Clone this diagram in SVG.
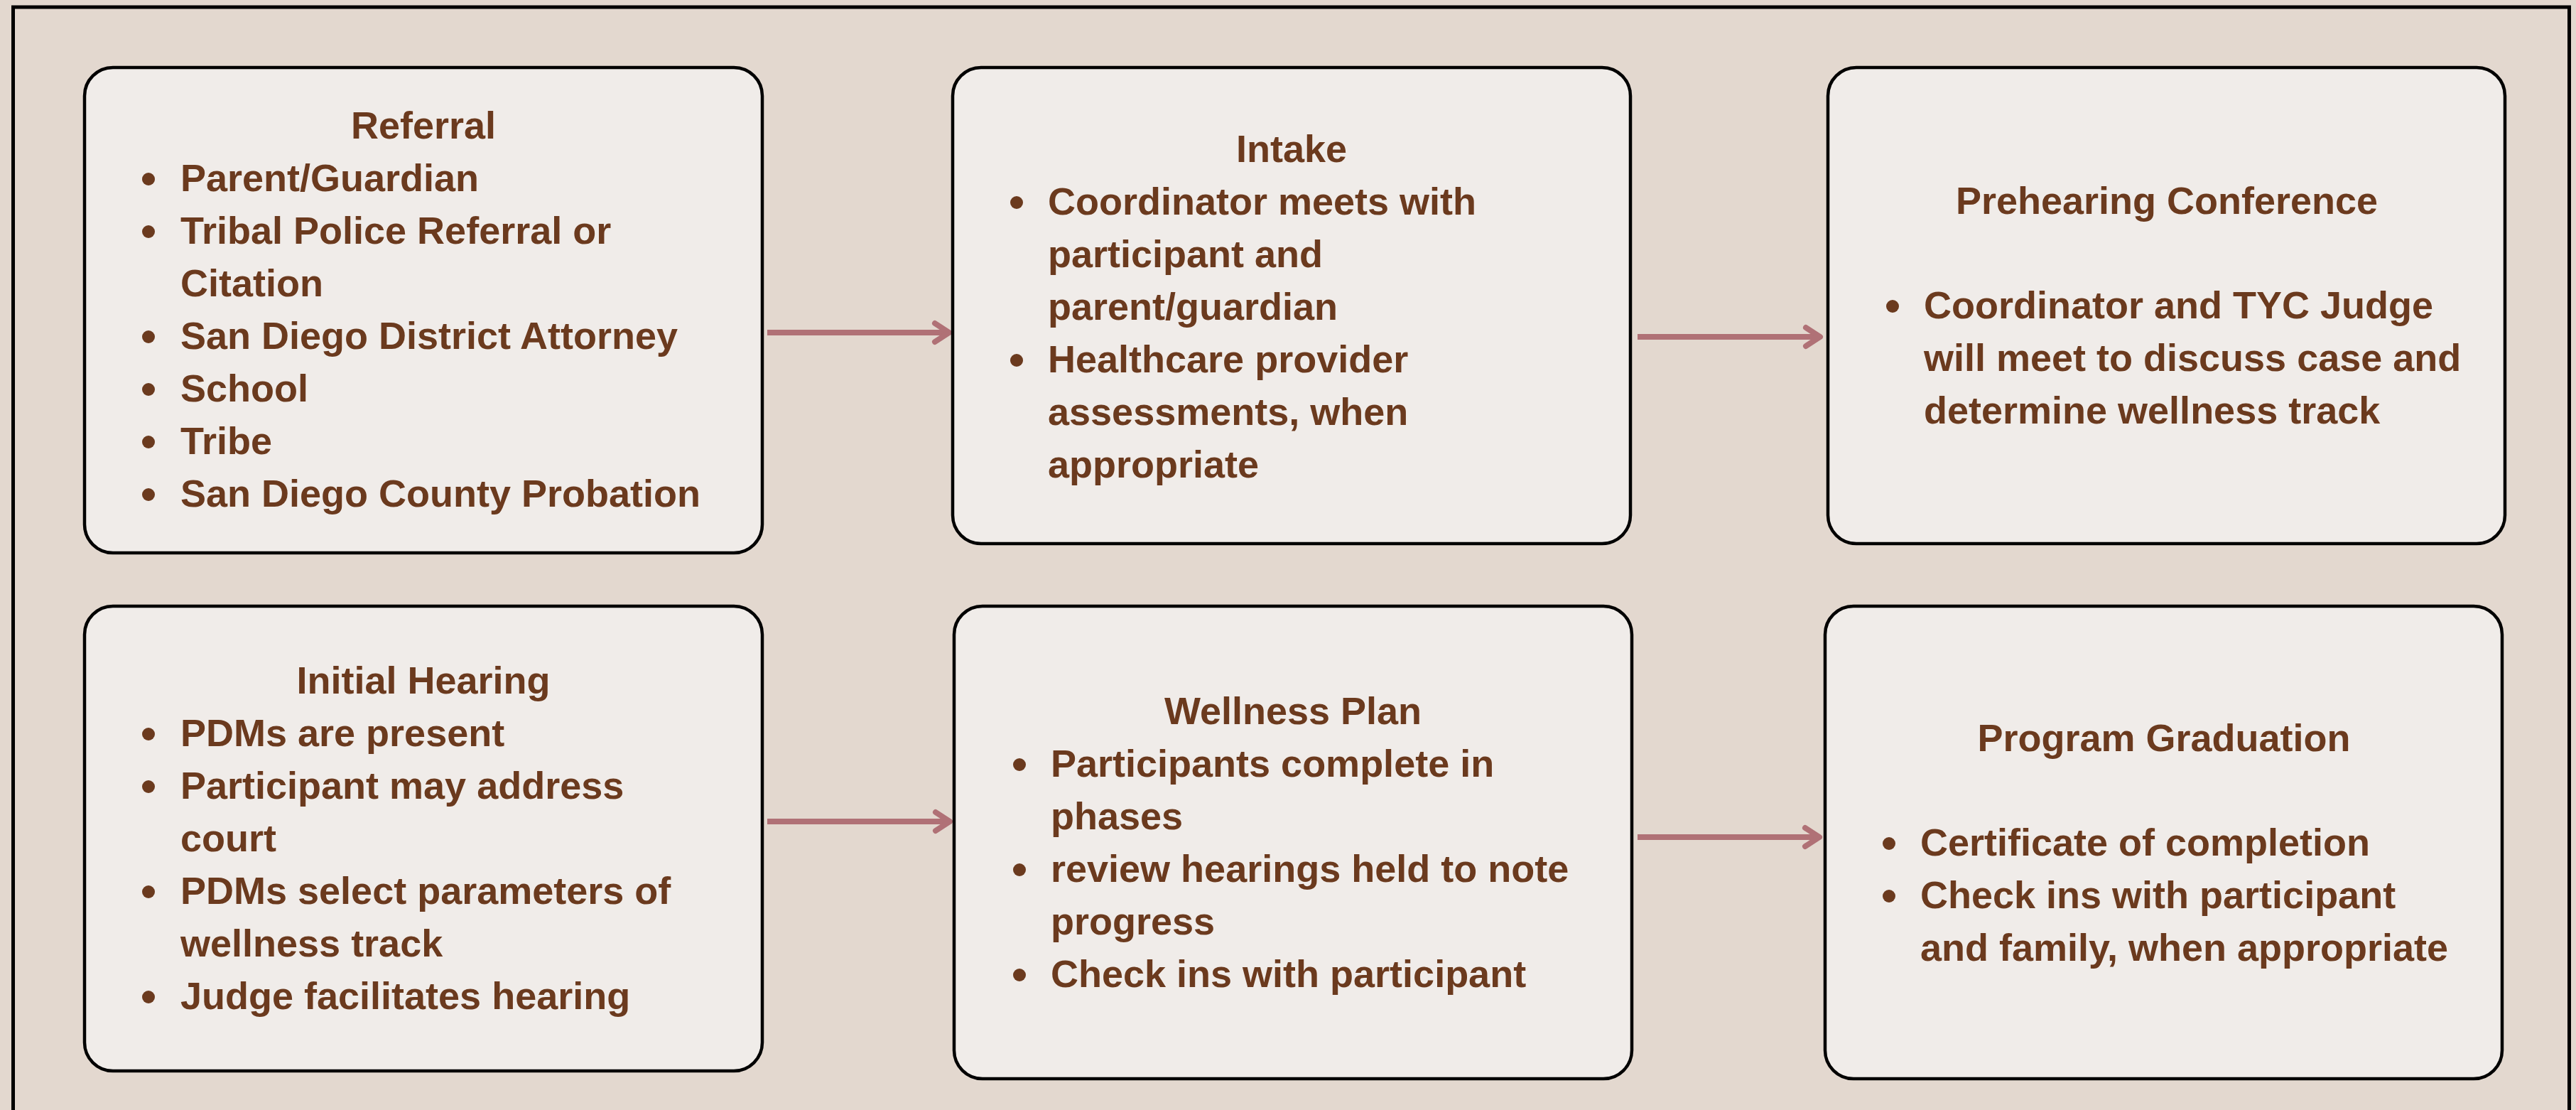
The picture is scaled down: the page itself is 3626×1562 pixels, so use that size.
<svg xmlns="http://www.w3.org/2000/svg" width="3626" height="1562" viewBox="0 0 3626 1562">
<defs>
<style>
.box{fill:#F0ECE9;stroke:#000;stroke-width:4.5}
.t{font-family:"Liberation Sans",Arial,sans-serif;font-weight:bold;font-size:54px;fill:#6B3A1E}
.ttl{text-anchor:middle}
.dot{fill:#6B3A1E}
.conn{stroke:#B07176;stroke-width:8;fill:none}
</style>
<marker id="arr" markerUnits="userSpaceOnUse" markerWidth="40" markerHeight="40" refX="22" refY="15" orient="auto" overflow="visible">
<path d="M2,2 L22,15 L2,28" fill="none" stroke="#B07176" stroke-width="8" stroke-linecap="round" stroke-linejoin="round"/>
</marker>
</defs>
<rect x="0" y="0" width="3626" height="1562" fill="#E3D8CF"/>
<rect x="18.5" y="10" width="3598" height="1620" fill="none" stroke="#000" stroke-width="5"/>

<g id="connectors">
<line class="conn" x1="1080" y1="468" x2="1336" y2="468" marker-end="url(#arr)"/>
<line class="conn" x1="2305" y1="474" x2="2562" y2="474" marker-end="url(#arr)"/>
<line class="conn" x1="1080" y1="1156" x2="1337" y2="1156" marker-end="url(#arr)"/>
<line class="conn" x1="2305" y1="1178" x2="2561" y2="1178" marker-end="url(#arr)"/>
</g>

<g id="referral">
<rect class="box" x="119" y="95" width="954" height="683" rx="40"/>
<text class="t ttl" x="596" y="195">Referral</text>
<circle class="dot" cx="209" cy="252" r="9"/>
<circle class="dot" cx="209" cy="326" r="9"/>
<circle class="dot" cx="209" cy="474" r="9"/>
<circle class="dot" cx="209" cy="548" r="9"/>
<circle class="dot" cx="209" cy="622" r="9"/>
<circle class="dot" cx="209" cy="696" r="9"/>
<text class="t" x="254" y="269">Parent/Guardian</text>
<text class="t" x="254" y="343">Tribal Police Referral or</text>
<text class="t" x="254" y="417">Citation</text>
<text class="t" x="254" y="491">San Diego District Attorney</text>
<text class="t" x="254" y="565">School</text>
<text class="t" x="254" y="639">Tribe</text>
<text class="t" x="254" y="713">San Diego County Probation</text>
</g>

<g id="intake">
<rect class="box" x="1341" y="95" width="954" height="670" rx="40"/>
<text class="t ttl" x="1818" y="228">Intake</text>
<circle class="dot" cx="1431" cy="285" r="9"/>
<circle class="dot" cx="1431" cy="507" r="9"/>
<text class="t" x="1475" y="302">Coordinator meets with</text>
<text class="t" x="1475" y="376">participant and</text>
<text class="t" x="1475" y="450">parent/guardian</text>
<text class="t" x="1475" y="524">Healthcare provider</text>
<text class="t" x="1475" y="598">assessments, when</text>
<text class="t" x="1475" y="672">appropriate</text>
</g>

<g id="prehearing">
<rect class="box" x="2573" y="95" width="953" height="670" rx="40"/>
<text class="t ttl" x="3050" y="301">Prehearing Conference</text>
<circle class="dot" cx="2664" cy="431" r="9"/>
<text class="t" x="2708" y="448">Coordinator and TYC Judge</text>
<text class="t" x="2708" y="522">will meet to discuss case and</text>
<text class="t" x="2708" y="596">determine wellness track</text>
</g>

<g id="initial-hearing">
<rect class="box" x="119" y="853" width="954" height="654" rx="40"/>
<text class="t ttl" x="596" y="976">Initial Hearing</text>
<circle class="dot" cx="209" cy="1033" r="9"/>
<circle class="dot" cx="209" cy="1107" r="9"/>
<circle class="dot" cx="209" cy="1255" r="9"/>
<circle class="dot" cx="209" cy="1403" r="9"/>
<text class="t" x="254" y="1050">PDMs are present</text>
<text class="t" x="254" y="1124">Participant may address</text>
<text class="t" x="254" y="1198">court</text>
<text class="t" x="254" y="1272">PDMs select parameters of</text>
<text class="t" x="254" y="1346">wellness track</text>
<text class="t" x="254" y="1420">Judge facilitates hearing</text>
</g>

<g id="wellness-plan">
<rect class="box" x="1343" y="853" width="954" height="665" rx="40"/>
<text class="t ttl" x="1820" y="1019">Wellness Plan</text>
<circle class="dot" cx="1435" cy="1076" r="9"/>
<circle class="dot" cx="1435" cy="1224" r="9"/>
<circle class="dot" cx="1435" cy="1372" r="9"/>
<text class="t" x="1479" y="1093">Participants complete in</text>
<text class="t" x="1479" y="1167">phases</text>
<text class="t" x="1479" y="1241">review hearings held to note</text>
<text class="t" x="1479" y="1315">progress</text>
<text class="t" x="1479" y="1389">Check ins with participant</text>
</g>

<g id="program-graduation">
<rect class="box" x="2569" y="853" width="953" height="665" rx="40"/>
<text class="t ttl" x="3046" y="1057">Program Graduation</text>
<circle class="dot" cx="2659" cy="1187" r="9"/>
<circle class="dot" cx="2659" cy="1261" r="9"/>
<text class="t" x="2703" y="1204">Certificate of completion</text>
<text class="t" x="2703" y="1278">Check ins with participant</text>
<text class="t" x="2703" y="1352">and family, when appropriate</text>
</g>
</svg>
